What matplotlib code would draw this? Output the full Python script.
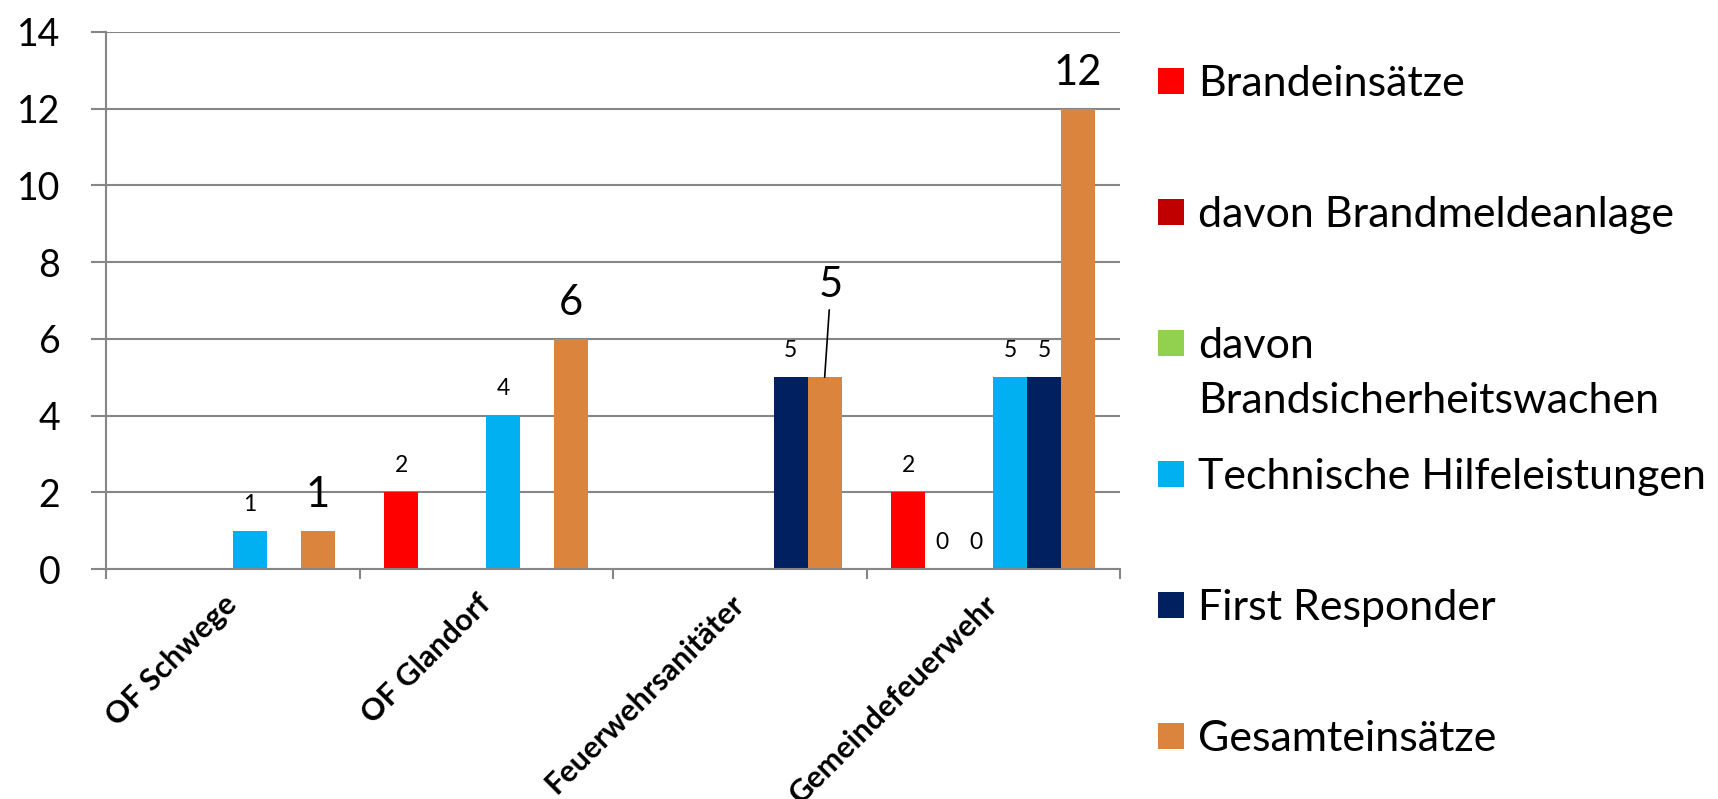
import numpy as np
import matplotlib
matplotlib.use("Agg")
import matplotlib.pyplot as plt
from matplotlib.patches import Rectangle
from matplotlib.ticker import FixedLocator

plt.rcParams["font.family"] = ["Lato", "DejaVu Sans"]

nan = np.nan

# --- data -----------------------------------------------------------------
categories = ["OF Schwege", "OF Glandorf", "Feuerwehrsanitäter", "Gemeindefeuerwehr"]
series_names = [
    "Brandeinsätze",
    "davon Brandmeldeanlage",
    "davon Brandsicherheitswachen",
    "Technische Hilfeleistungen",
    "First Responder",
    "Gesamteinsätze",
]
brandeinsaetze = [nan, 2, nan, 2]
brandmeldeanlage = [nan, nan, nan, 0]
brandsicherheitswachen = [nan, nan, nan, 0]
technische_hilfe = [1, 4, nan, 5]
first_responder = [nan, nan, 5, 5]
gesamt = [1, 6, 5, 12]
yticks = [0, 2, 4, 6, 8, 10, 12, 14]

series = [brandeinsaetze, brandmeldeanlage, brandsicherheitswachen,
          technische_hilfe, first_responder, gesamt]
colors = ["#FF0000", "#C00000", "#92D050", "#00B0F0", "#002060", "#DA843E"]
# legend text as Excel wraps it
legend_labels = ["Brandeinsätze", "davon Brandmeldeanlage",
                 "davon\nBrandsicherheitswachen", "Technische Hilfeleistungen",
                 "First Responder", "Gesamteinsätze"]

GRID = "#868686"
W, H = 1718, 799

fig = plt.figure(figsize=(W / 100, H / 100), dpi=100)
ax = fig.add_axes([106 / W, (H - 569) / H, 1014 / W, 537 / H])

x = np.arange(len(categories))
bw = 0.134
for i, (vals, col) in enumerate(zip(series, colors)):
    pos = x + (i - 2.5) * bw
    ax.bar(pos, vals, width=bw, color=col, edgecolor="none", zorder=2)
    big = i == len(series) - 1
    for j, (p, v) in enumerate(zip(pos, vals)):
        if np.isnan(v):
            continue
        if big and j == 2:
            # this label sits higher, with a leader line down to the bar
            ax.annotate(f"{v:g}", xy=(p, v), xytext=(4.5, 57.5),
                        textcoords="offset points", ha="center", va="baseline",
                        fontsize=30,
                        arrowprops=dict(arrowstyle="-", color="black", lw=1.2,
                                        shrinkA=2, shrinkB=0))
        elif big:
            ax.annotate(f"{v:g}", xy=(p, v), xytext=(0, 17),
                        textcoords="offset points", ha="center", va="baseline",
                        fontsize=30)
        else:
            ax.annotate(f"{v:g}", xy=(p, v), xytext=(0, 14.5),
                        textcoords="offset points", ha="center", va="baseline",
                        fontsize=16.5)

ax.set_xlim(-0.5, len(categories) - 0.5)
ax.set_ylim(0, 14)
ax.set_yticks(yticks)
ax.set_yticklabels([str(t) for t in yticks])
ax.set_axisbelow(True)
ax.yaxis.grid(True, color=GRID, lw=1.5)

ax.set_xticks(x)
ax.set_xticklabels(categories, rotation=45, ha="right", va="center",
                   rotation_mode="anchor", fontsize=22, fontweight="bold")
ax.xaxis.set_minor_locator(FixedLocator(np.arange(-0.5, len(categories), 1.0)))
ax.tick_params(axis="x", which="major", length=0, pad=22)
ax.tick_params(axis="x", which="minor", length=7, width=1.5, color=GRID)
ax.tick_params(axis="y", length=10.8, width=1.5, color=GRID, pad=22, labelsize=27)

for s in ["top", "right"]:
    ax.spines[s].set_visible(False)
for s in ["left", "bottom"]:
    ax.spines[s].set_color(GRID)
    ax.spines[s].set_linewidth(1.5)

# --- legend drawn by hand: Excel keeps equal spacing even for wrapped entries
y0, step, line_gap = 81, 131, 55
for k, (lab, col) in enumerate(zip(legend_labels, colors)):
    yc = y0 + k * step
    fig.add_artist(Rectangle((1158 / W, (H - yc - 13) / H), 26 / W, 26 / H,
                             transform=fig.transFigure, color=col, lw=0))
    for n, line in enumerate(lab.split("\n")):
        fig.text(1198 / W, (H - yc - 15 - n * line_gap) / H, line,
                 fontsize=31, va="baseline", ha="left")

fig.savefig("out.png", dpi=100)
